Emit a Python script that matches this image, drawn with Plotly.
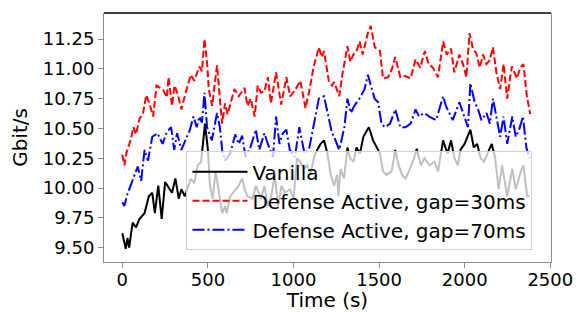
import plotly.graph_objects as go

# Time (s) and throughput (Gbit/s)
t_vanilla = [0, 10, 20, 30, 40, 60, 80, 100, 130, 155, 175, 190, 210, 230, 250, 290, 310, 330, 345, 365,
             385, 400, 420, 440, 460, 483, 500, 512, 528, 545, 565, 583, 600, 610, 630, 660, 680, 700, 715, 730,
             760, 780, 810, 830, 850, 870, 890, 910, 930, 950, 980, 1000, 1020, 1040, 1060, 1080, 1100, 1118, 1138, 1158,
             1178, 1198, 1218, 1237, 1255, 1262, 1275, 1295, 1315, 1330, 1350, 1368, 1388, 1408, 1440, 1465, 1485, 1505, 1523, 1543,
             1573, 1594, 1614, 1634, 1654, 1674, 1704, 1720, 1744, 1764, 1794, 1824, 1844, 1874, 1880, 1900, 1920, 1940, 1960, 1975,
             1999, 2033, 2053, 2073, 2093, 2113, 2133, 2158, 2178, 2198, 2218, 2248, 2278, 2298, 2328, 2343, 2365, 2380]
v_vanilla = [9.62, 9.56, 9.49, 9.58, 9.50, 9.71, 9.67, 9.74, 9.79, 9.93, 9.96, 9.79, 10.02, 9.74, 10.05, 9.96, 10.08, 9.91, 9.99, 9.93,
             10.02, 10.08, 10.04, 10.19, 10.22, 10.54, 10.32, 10.02, 9.91, 10.14, 9.96, 9.79, 9.85, 9.79, 9.93, 9.99, 10.02, 10.08, 9.99, 9.93,
             9.91, 10.02, 9.91, 10.02, 9.85, 9.93, 10.11, 9.85, 10.02, 9.96, 9.99, 9.91, 10.25, 10.22, 10.16, 10.19, 10.11, 10.25, 10.32, 10.37,
             10.40, 10.29, 10.11, 10.02, 10.11, 9.93, 10.16, 10.08, 10.34, 10.25, 10.22, 10.34, 10.29, 10.43, 10.51, 10.40, 10.34, 10.29, 10.14, 10.11,
             10.14, 10.32, 10.19, 10.11, 10.08, 10.14, 10.25, 10.33, 10.19, 10.25, 10.19, 10.22, 10.14, 10.40, 10.37, 10.29, 10.40, 10.25, 10.19, 10.32,
             10.37, 10.49, 10.34, 10.37, 10.25, 10.22, 10.29, 10.37, 10.25, 9.99, 10.19, 9.93, 10.16, 9.99, 10.14, 10.19, 9.93, 9.93]

t_gap30 = [0, 12, 25, 48, 65, 80, 100, 120, 140, 160, 180, 200, 220, 240, 260, 270, 290, 305, 325, 345,
           370, 400, 420, 450, 465, 480, 495, 505, 525, 540, 553, 570, 583, 600, 615, 655, 680, 714, 731, 750,
           773, 791, 810, 830, 850, 868, 898, 928, 958, 980, 1004, 1040, 1070, 1090, 1118, 1148, 1165, 1178, 1207, 1225,
           1237, 1267, 1285, 1315, 1332, 1350, 1368, 1386, 1404, 1434, 1451, 1475, 1505, 1523, 1553, 1575, 1594, 1624, 1654, 1684,
           1713, 1740, 1767, 1790, 1814, 1844, 1874, 1895, 1920, 1939, 1969, 1990, 2010, 2028, 2048, 2068, 2088, 2107, 2127, 2145,
           2165, 2185, 2207, 2227, 2248, 2275, 2305, 2325, 2343, 2363, 2383]
v_gap30 = [10.28, 10.19, 10.30, 10.40, 10.51, 10.45, 10.58, 10.62, 10.78, 10.70, 10.60, 10.86, 10.84, 10.82, 10.76, 10.93, 10.69, 10.86, 10.78, 10.66,
           10.80, 10.95, 10.90, 11.02, 10.98, 11.25, 11.05, 10.83, 10.69, 10.90, 11.03, 10.75, 10.54, 10.71, 10.62, 10.83, 10.77, 10.84, 10.69, 10.75,
           10.60, 10.86, 10.80, 10.81, 10.93, 10.71, 10.97, 10.70, 10.93, 10.77, 10.81, 10.90, 10.67, 10.80, 11.02, 11.18, 11.10, 11.15, 10.89, 10.86,
           10.89, 10.77, 10.95, 11.19, 11.06, 11.12, 11.15, 11.23, 11.12, 11.30, 11.36, 11.18, 11.15, 10.92, 10.93, 11.00, 11.10, 10.93, 10.94, 10.92,
           11.08, 11.01, 11.15, 11.04, 11.01, 10.93, 11.23, 11.12, 11.17, 10.97, 11.12, 11.04, 10.93, 11.30, 11.17, 11.13, 11.01, 11.12, 11.04, 11.07,
           11.18, 10.97, 10.83, 11.04, 10.75, 11.02, 10.92, 11.01, 11.04, 10.77, 10.62]

t_gap70 = [0, 12, 30, 48, 65, 90, 110, 130, 150, 175, 205, 235, 260, 285, 303, 320, 345, 370, 395, 415,
           435, 450, 465, 480, 495, 523, 553, 570, 583, 600, 630, 660, 680, 700, 720, 750, 780, 800, 830, 850,
           880, 898, 918, 938, 958, 978, 1008, 1034, 1064, 1090, 1118, 1148, 1178, 1207, 1225, 1237, 1267, 1297, 1315, 1335,
           1355, 1385, 1415, 1434, 1454, 1474, 1494, 1514, 1534, 1564, 1594, 1624, 1654, 1684, 1713, 1733, 1763, 1793, 1833, 1874,
           1890, 1930, 1969, 1999, 2019, 2033, 2058, 2078, 2098, 2127, 2147, 2165, 2185, 2207, 2227, 2248, 2278, 2298, 2318, 2340,
           2360, 2380]
v_gap70 = [9.88, 9.85, 9.95, 10.02, 10.10, 10.18, 10.06, 10.32, 10.23, 10.43, 10.46, 10.37, 10.47, 10.51, 10.32, 10.46, 10.32, 10.40, 10.49, 10.60,
           10.51, 10.60, 10.55, 10.80, 10.51, 10.40, 10.63, 10.51, 10.32, 10.23, 10.29, 10.45, 10.37, 10.44, 10.26, 10.35, 10.49, 10.32, 10.46, 10.37,
           10.26, 10.60, 10.37, 10.46, 10.49, 10.32, 10.26, 10.51, 10.29, 10.32, 10.54, 10.75, 10.77, 10.57, 10.46, 10.43, 10.32, 10.51, 10.75, 10.63,
           10.69, 10.75, 10.83, 10.95, 10.86, 10.75, 10.72, 10.54, 10.51, 10.54, 10.66, 10.51, 10.51, 10.54, 10.66, 10.60, 10.63, 10.60, 10.57, 10.77,
           10.69, 10.57, 10.72, 10.60, 10.51, 10.88, 10.72, 10.66, 10.57, 10.63, 10.54, 10.75, 10.60, 10.43, 10.60, 10.37, 10.60, 10.43, 10.49, 10.60,
           10.34, 10.25]

names = ["Vanilla", "Defense Active, gap=30ms", "Defense Active, gap=70ms"]
x_ticks = [0, 500, 1000, 1500, 2000, 2500]
y_ticks = [9.50, 9.75, 10.00, 10.25, 10.50, 10.75, 11.00, 11.25]

FONT = "DejaVu Sans"
GREY = "#8c8c8c"

fig = go.Figure()
fig.add_trace(go.Scatter(x=t_vanilla, y=v_vanilla, mode="lines", name=names[0],
                         line=dict(color="black", width=2)))
fig.add_trace(go.Scatter(x=t_gap30, y=v_gap30, mode="lines", name=names[1],
                         line=dict(color="red", width=2, dash="7px,3px")))
fig.add_trace(go.Scatter(x=t_gap70, y=v_gap70, mode="lines", name=names[2],
                         line=dict(color="blue", width=2, dash="12px,3px,2px,3px")))

# the page body adds an 8px offset, so the figure is 8px smaller than the window
fig.update_layout(
    width=573, height=304,
    margin=dict(l=96, r=30, t=5, b=50),
    paper_bgcolor="white", plot_bgcolor="white",
    font=dict(family=FONT, size=18, color="black"),
    showlegend=True,
    legend=dict(x=0.1845, y=0.445, xanchor="left", yanchor="top",
                bgcolor="rgba(255,255,255,0.75)", bordercolor="#d0d0d0", borderwidth=1,
                font=dict(family=FONT, size=20, color="black"),
                itemwidth=55, tracegroupgap=0),
    xaxis=dict(range=[-107, 2504], tickvals=x_ticks, ticktext=[str(v) for v in x_ticks],
               showgrid=False, zeroline=False, showline=True, linecolor=GREY, linewidth=1,
               ticks="outside", ticklen=5, tickcolor=GREY, automargin=False,
               ticklabelstandoff=-4,
               title=dict(text="Time (s)", font=dict(size=20), standoff=0)),
    yaxis=dict(range=[9.379, 11.469], tickvals=y_ticks, tickformat=".2f",
               showgrid=False, zeroline=False, showline=True, linecolor=GREY, linewidth=1,
               mirror=True, automargin=False,
               ticks="outside", ticklen=5, tickcolor=GREY,
               title=dict(text="Gbit/s", font=dict(size=20), standoff=9)),
    shapes=[dict(type="line", xref="paper", yref="paper", x0=0, x1=1, y0=1, y1=1,
                 line=dict(color="black", width=1.5))],
)

fig.write_html("out.html")
